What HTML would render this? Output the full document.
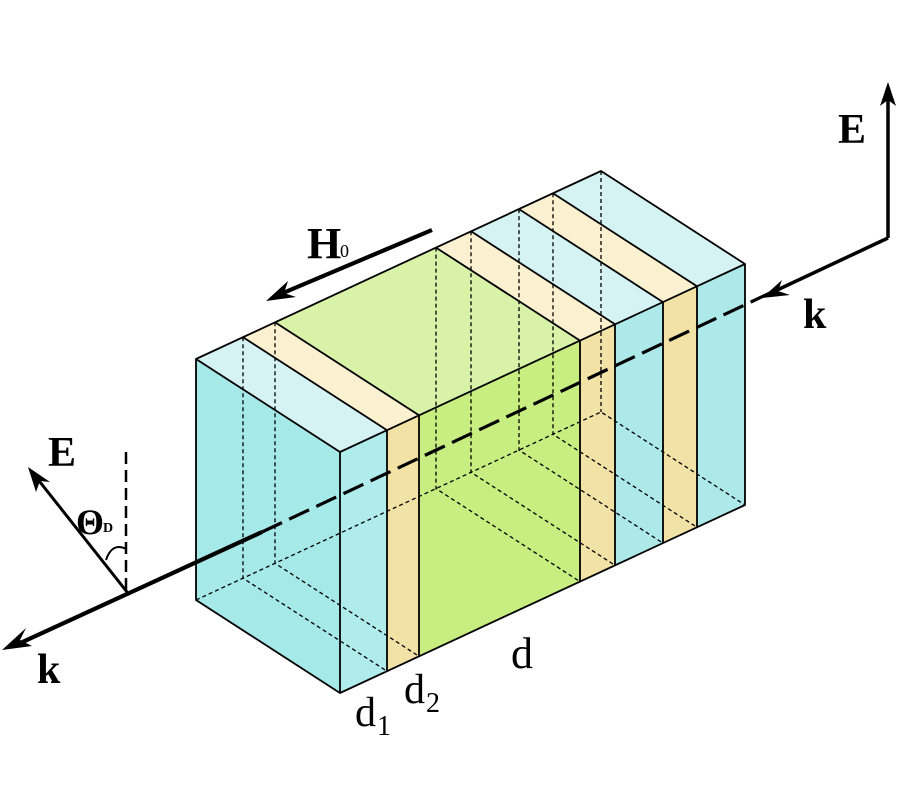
<!DOCTYPE html>
<html><head><meta charset="utf-8"><style>html,body{margin:0;padding:0;background:#fff}svg{display:block}</style></head>
<body>
<svg width="899" height="812" viewBox="0 0 899 812" xmlns="http://www.w3.org/2000/svg" font-family="Liberation Serif, serif">
<g stroke="none">
<polygon points="196,359 243,337.2 387,430.2 340,452" fill="#d6f3f3"/>
<polygon points="243,337.2 275,322.3 419,415.3 387,430.2" fill="#fbf0cf"/>
<polygon points="275,322.3 436,247.6 580,340.6 419,415.3" fill="#d8f2a8"/>
<polygon points="436,247.6 471,231.3 615,324.3 580,340.6" fill="#fbf0cf"/>
<polygon points="471,231.3 519,209.1 663,302.1 615,324.3" fill="#d6f3f3"/>
<polygon points="519,209.1 553,193.3 697,286.3 663,302.1" fill="#fbf0cf"/>
<polygon points="553,193.3 601,171 745,264 697,286.3" fill="#d6f3f3"/>
<polygon points="196,359 340,452 340,693 196,600" fill="#a6e9e9"/>
<polygon points="340,452 387,430.2 387,671.2 340,693" fill="#b0ecec"/>
<polygon points="387,430.2 419,415.3 419,656.3 387,671.2" fill="#f2e2a6"/>
<polygon points="419,415.3 580,340.6 580,581.6 419,656.3" fill="#c8ed80"/>
<polygon points="580,340.6 615,324.3 615,565.3 580,581.6" fill="#f2e2a6"/>
<polygon points="615,324.3 663,302.1 663,543.1 615,565.3" fill="#ade9e9"/>
<polygon points="663,302.1 697,286.3 697,527.3 663,543.1" fill="#f2e2a6"/>
<polygon points="697,286.3 745,264 745,505 697,527.3" fill="#ade9e9"/>
</g>
<g stroke="#000" stroke-width="1.3" stroke-dasharray="4,3" fill="none">
<path d="M196,600 L601,412 L745,505"/>
<path d="M243,337.2 V578.2 L387,671.2"/>
<path d="M275,322.3 V563.3 L419,656.3"/>
<path d="M436,247.6 V488.6 L580,581.6"/>
<path d="M471,231.3 V472.3 L615,565.3"/>
<path d="M519,209.1 V450.1 L663,543.1"/>
<path d="M553,193.3 V434.3 L697,527.3"/>
<path d="M601,171 V412"/>
</g>
<g stroke="#000" stroke-width="1.8" fill="none" stroke-linejoin="round">
<path d="M196,359 L601,171 L745,264 V505 L340,693 L196,600 Z"/>
<path d="M196,359 L340,452 L745,264"/>
<path d="M340,452 V693"/>
<path d="M243,337.2 L387,430.2 V671.2"/>
<path d="M275,322.3 L419,415.3 V656.3"/>
<path d="M436,247.6 L580,340.6 V581.6"/>
<path d="M471,231.3 L615,324.3 V565.3"/>
<path d="M519,209.1 L663,302.1 V543.1"/>
<path d="M553,193.3 L697,286.3 V527.3"/>
</g>
<g stroke="#000" fill="none">
<path d="M262,532 L770,293" stroke-width="3.2" stroke-dasharray="22,8"/>
<path d="M262,532 L16,645" stroke-width="4.2"/>
<path d="M888,238 L775,291" stroke-width="3.5"/>
<path d="M888,238 V96" stroke-width="3.5"/>
<path d="M127,592 L36,477" stroke-width="3"/>
<path d="M126,452 V592" stroke-width="2.5" stroke-dasharray="12,6"/>
<path d="M106,560 Q112,542 126,549" stroke-width="2"/>
<path d="M432,230 L283,293" stroke-width="4.2"/>
</g>
<g fill="#000">
<polygon points="2,650 26,628 20,640 32,646"/>
<polygon points="762,298 782,280 778,291 790,295"/>
<polygon points="888,82 880,106 888,100 896,106"/>
<polygon points="28,467 50,482 40,481 36,492"/>
<polygon points="266,301 288,281 284,293 296,297"/>
</g>
<g font-weight="bold" fill="#000">
<text x="838" y="143" font-size="42">E</text>
<text x="803" y="328" font-size="42">k</text>
<text x="48" y="466" font-size="42">E</text>
<text x="37" y="683" font-size="42">k</text>
<text x="76" y="534" font-size="36">Θ</text>
<text x="103" y="532" font-size="14">D</text>
<text x="307" y="258" font-size="44">H</text>
</g>
<g fill="#000">
<text x="340" y="257" font-size="18">0</text>
<text x="355" y="726" font-size="42">d</text>
<text x="377" y="735" font-size="28">1</text>
<text x="404" y="703" font-size="42">d</text>
<text x="426" y="712" font-size="28">2</text>
<text x="511" y="668" font-size="44">d</text>
</g>
</svg>
</body></html>
